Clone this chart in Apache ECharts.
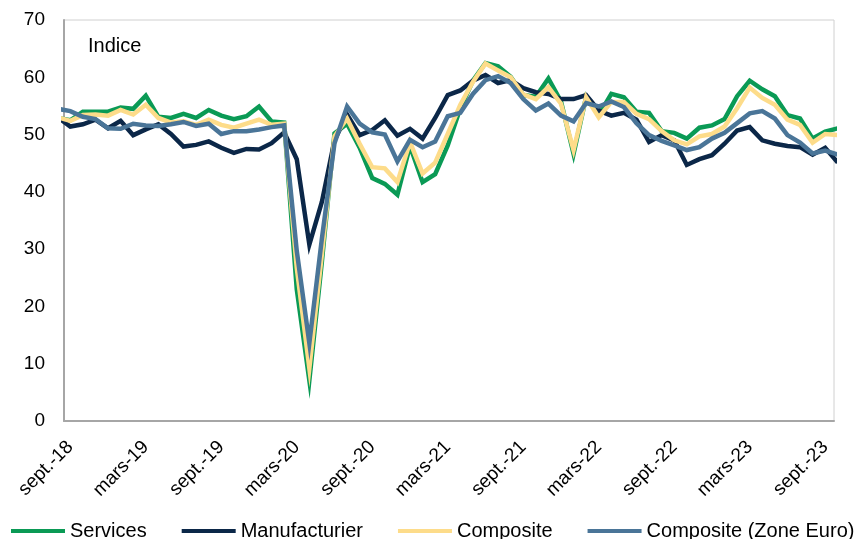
<!DOCTYPE html>
<html>
<head>
<meta charset="utf-8">
<script src="https://cdn.jsdelivr.net/npm/echarts@6/dist/echarts.min.js"></script>
<style>
  html, body { margin: 0; padding: 0; background: #fff; }
  #chart { width: 866px; height: 539px; }
</style>
</head>
<body>
<div id="chart"></div>
<script>
// mois : août-18 (index 0) ... oct.-23 (index 62)
const tickLabels = ["sept.-18", "mars-19", "sept.-19", "mars-20", "sept.-20", "mars-21",
  "sept.-21", "mars-22", "sept.-22", "mars-23", "sept.-23"];
const tickIndex = [1, 7, 13, 19, 25, 31, 37, 43, 49, 55, 61];

const services = [
  52.9, 52.5, 54.0, 54.0, 54.0,
  54.7, 54.5, 56.8, 53.1, 52.9, 53.6, 52.9, 54.3, 53.3, 52.7, 53.2, 54.9,
  52.3, 52.1, 23.0, 7.1, 27.9, 50.2, 51.9, 47.7, 42.4, 41.4, 39.5, 48.0,
  41.7, 43.1, 48.1, 54.6, 59.4, 62.5, 61.9, 60.1, 56.9, 56.6, 59.8, 55.8,
  46.6, 56.6, 53.4, 57.1, 56.5, 54.0, 53.8, 50.6, 50.3, 49.3, 51.2, 51.6,
  52.7, 56.7, 59.4, 57.9, 56.7, 53.4, 52.8, 49.3, 50.5, 51.1
];
const manufacturier = [
  53.0, 51.4, 51.8, 52.6, 51.1,
  52.4, 49.9, 50.9, 51.8, 50.1, 47.9, 48.2, 48.8, 47.7, 46.8, 47.5, 47.4,
  48.5, 50.4, 45.7, 30.8, 38.3, 49.0, 53.5, 49.9, 50.8, 52.5, 49.8, 51.0,
  49.3, 52.9, 56.9, 57.7, 59.4, 60.4, 59.0, 59.5, 58.1, 57.4, 57.1, 56.2,
  56.2, 56.9, 54.2, 53.3, 53.8, 52.6, 48.7, 49.9, 49.0, 44.7, 45.7, 46.4,
  48.4, 50.7, 51.3, 49.0, 48.4, 48.0, 47.8, 46.5, 47.7, 45.1
];
const composite = [
  53.0, 52.4, 53.4, 53.5, 53.3,
  54.3, 53.5, 55.2, 52.9, 52.1, 52.3, 51.7, 52.6, 51.7, 51.2, 51.9, 52.6,
  51.7, 51.9, 26.7, 9.2, 29.2, 49.7, 52.8, 48.4, 44.3, 44.1, 41.7, 48.7,
  43.2, 45.1, 50.1, 55.2, 59.2, 62.4, 61.2, 60.0, 57.0, 56.2, 58.3, 55.4,
  47.3, 56.5, 53.0, 55.7, 55.7, 53.6, 52.7, 50.6, 49.0, 48.3, 49.7, 50.1,
  51.4, 54.6, 58.2, 56.4, 55.2, 52.6, 51.7, 48.6, 50.1, 49.9
];
const compositeZE = [
  54.5, 54.1, 53.1, 52.7, 51.1,
  51.0, 51.9, 51.6, 51.5, 51.8, 52.2, 51.5, 51.9, 50.1, 50.6, 50.6, 50.9,
  51.3, 51.6, 29.7, 13.6, 31.9, 48.5, 54.9, 51.9, 50.4, 50.0, 45.3, 49.1,
  47.8, 48.8, 53.2, 53.8, 57.1, 59.5, 60.2, 59.0, 56.2, 54.2, 55.4, 53.3,
  52.3, 55.5, 54.9, 55.8, 54.8, 52.0, 49.9, 48.9, 48.1, 47.3, 47.8, 49.3,
  50.3, 52.0, 53.7, 54.1, 52.8, 49.9, 48.6, 46.7, 47.2, 46.5
];

const toPoints = (arr) => arr.map((v, i) => [i, v]);

const font = "Liberation Sans, Arial, sans-serif";

function mkSeries(name, data, color) {
  return {
    name: name,
    type: "line",
    data: toPoints(data),
    showSymbol: false,
    clip: true,
    lineStyle: { color: color, width: 4.5, join: "miter" },
    itemStyle: { color: color },
  };
}

const myecharts = echarts.init(document.getElementById("chart"));
myecharts.setOption({
  animation: false,
  textStyle: { fontFamily: font, color: "#000" },
  title: {
    text: "Indice",
    left: 83,
    top: 31,
    textStyle: { fontSize: 20, fontWeight: "normal", color: "#000", fontFamily: font },
  },
  grid: {
    left: 64,
    right: 32,
    top: 20,
    bottom: 118,
    show: true,
    borderColor: "#d0d0d0",
    borderWidth: 1,
  },
  legend: {
    left: 6,
    top: 516,
    icon: "rect",
    itemWidth: 54,
    itemHeight: 4,
    itemGap: 35,
    textStyle: { fontSize: 20, color: "#000", fontFamily: font },
  },
  xAxis: {
    type: "value",
    min: 0.5,
    max: 61.7,
    splitLine: { show: false },
    axisLine: { show: true, onZero: false, lineStyle: { color: "#a6a6a6", width: 2 } },
    axisTick: { show: false },
    axisLabel: {
      customValues: tickIndex,
      rotate: 45,
      margin: 23,
      fontSize: 19,
      color: "#000",
      fontFamily: font,
      formatter: (v) => tickLabels[tickIndex.indexOf(Math.round(v))] || "",
    },
  },
  yAxis: {
    type: "value",
    min: 0,
    max: 70,
    interval: 10,
    splitLine: { show: false },
    axisLine: { show: true, lineStyle: { color: "#a6a6a6", width: 2 } },
    axisTick: { show: false },
    axisLabel: { fontSize: 19, color: "#000", margin: 19, fontFamily: font },
  },
  series: [
    mkSeries("Services", services, "#0a9a55"),
    mkSeries("Manufacturier", manufacturier, "#0b2748"),
    mkSeries("Composite", composite, "#fddc8a"),
    mkSeries("Composite (Zone Euro)", compositeZE, "#4a7598"),
  ],
});
</script>
</body>
</html>
